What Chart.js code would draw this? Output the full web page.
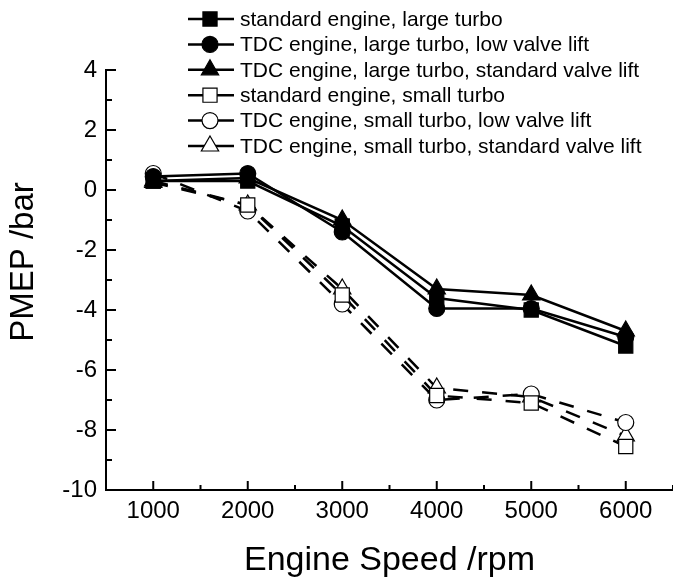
<!DOCTYPE html>
<html lang="en">
<head>
    <meta charset="UTF-8">
    <title>PMEP vs engine speed</title>
    <style>
        body {
            margin: 0;
            background: #fff;
        }
        .chart-box {
            width: 673px;
            height: 581px;
        }
    </style>
</head>
<body>
    <div class="chart-box">
        <canvas id="pmepChart" width="673" height="581"></canvas>
    </div>
    <script src="https://cdn.jsdelivr.net/npm/chart.js"></script>
    <script>
        // values
        const speeds = [1000, 2000, 3000, 4000, 5000, 6000];
        const seriesNames = [
            'standard engine, large turbo',
            'TDC engine, large turbo, low valve lift',
            'TDC engine, large turbo, standard valve lift',
            'standard engine, small turbo',
            'TDC engine, small turbo, low valve lift',
            'TDC engine, small turbo, standard valve lift'
        ];
        const stdLarge = [0.3, 0.3, -1.2, -3.6, -4.0, -5.2];
        const tdcLargeLow = [0.45, 0.55, -1.4, -3.95, -3.95, -4.9];
        const tdcLargeStd = [0.3, 0.4, -1.0, -3.3, -3.5, -4.7];
        const stdSmall = [0.3, -0.5, -3.5, -6.85, -7.1, -8.55];
        const tdcSmallLow = [0.55, -0.7, -3.8, -7.0, -6.8, -7.75];
        const tdcSmallStd = [0.25, -0.5, -3.3, -6.6, -6.9, -8.2];
        const yTicks = [-10, -8, -6, -4, -2, 0, 2, 4];
        const xTicks = [1000, 2000, 3000, 4000, 5000, 6000];

        const FONT = "'Liberation Sans', Arial, sans-serif";

        function makeSet(label, values, style, filled, dashed, radius) {
            return {
                label: label,
                data: values.map((v, i) => ({ x: speeds[i], y: v })),
                borderColor: '#000',
                borderWidth: 2.5,
                borderDash: dashed ? [15, 14] : [],
                pointStyle: style,
                pointRadius: radius,
                pointHoverRadius: radius,
                pointBackgroundColor: filled ? '#000' : '#fff',
                pointBorderColor: '#000',
                pointBorderWidth: 1.2,
                fill: false,
                tension: 0
            };
        }

        const datasets = [
            makeSet(seriesNames[0], stdLarge, 'rect', true, false, 10),
            makeSet(seriesNames[1], tdcLargeLow, 'circle', true, false, 8),
            makeSet(seriesNames[2], tdcLargeStd, 'triangle', true, false, 10),
            makeSet(seriesNames[3], stdSmall, 'rect', false, true, 10),
            makeSet(seriesNames[4], tdcSmallLow, 'circle', false, true, 8),
            makeSet(seriesNames[5], tdcSmallStd, 'triangle', false, true, 10)
        ];

        // inward major/minor ticks on both axes, plus the y title
        const inwardTicks = {
            id: 'inwardTicks',
            afterDraw(chart) {
                const ctx = chart.ctx;
                const area = chart.chartArea;
                const xs = chart.scales.x;
                const ys = chart.scales.y;
                ctx.save();
                ctx.strokeStyle = '#000';
                ctx.lineWidth = 2;
                for (let v = 500; v <= 6500; v += 500) {
                    const px = xs.getPixelForValue(v);
                    const len = v % 1000 === 0 ? 9 : 5;
                    ctx.beginPath();
                    ctx.moveTo(px, area.bottom);
                    ctx.lineTo(px, area.bottom - len);
                    ctx.stroke();
                }
                for (let v = -10; v <= 4; v += 1) {
                    const py = ys.getPixelForValue(v);
                    const len = v % 2 === 0 ? 10 : 6;
                    ctx.beginPath();
                    ctx.moveTo(area.left, py);
                    ctx.lineTo(area.left + len, py);
                    ctx.stroke();
                }
                // y title sits a bit above the middle in the original
                ctx.translate(24, 262);
                ctx.rotate(-Math.PI / 2);
                ctx.font = '33px ' + FONT;
                ctx.fillStyle = '#000';
                ctx.textAlign = 'center';
                ctx.textBaseline = 'middle';
                ctx.fillText('PMEP /bar', 0, 0);
                ctx.restore();
            }
        };

        // legend: short line segment with the marker, text to the right
        const lineLegend = {
            id: 'lineLegend',
            afterDraw(chart) {
                const ctx = chart.ctx;
                ctx.save();
                ctx.font = '21px ' + FONT;
                ctx.textBaseline = 'middle';
                chart.data.datasets.forEach((ds, i) => {
                    const y = 19 + i * 25.4;
                    ctx.strokeStyle = '#000';
                    ctx.lineWidth = 2.5;
                    ctx.setLineDash([]);
                    ctx.beginPath();
                    ctx.moveTo(188, y);
                    ctx.lineTo(234, y);
                    ctx.stroke();
                    ctx.fillStyle = ds.pointBackgroundColor;
                    ctx.lineWidth = 1.2;
                    Chart.helpers.drawPoint(ctx, {
                        pointStyle: ds.pointStyle,
                        radius: ds.pointRadius,
                        borderWidth: 1.2,
                        rotation: 0
                    }, 210, y);
                    ctx.fillStyle = '#000';
                    ctx.fillText(ds.label, 240, y + 1);
                });
                ctx.restore();
            }
        };

        new Chart(document.getElementById('pmepChart'), {
            type: 'line',
            data: { datasets: datasets },
            options: {
                responsive: false,
                animation: false,
                events: [],
                layout: {
                    autoPadding: false,
                    padding: { top: 70, right: 0, left: 0, bottom: 0 }
                },
                plugins: {
                    legend: { display: false },
                    tooltip: { enabled: false }
                },
                scales: {
                    x: {
                        type: 'linear',
                        min: 500,
                        max: 6500,
                        afterFit(scale) {
                            scale.height = 91;
                            scale.paddingLeft = 0;
                            scale.paddingRight = 0;
                        },
                        afterBuildTicks(scale) {
                            scale.ticks = xTicks.map(v => ({ value: v }));
                        },
                        grid: { display: false, drawTicks: false, tickLength: 0 },
                        border: { display: true, color: '#000', width: 2 },
                        ticks: {
                            color: '#000',
                            font: { family: FONT, size: 24 },
                            padding: 7,
                            maxRotation: 0,
                            callback: v => String(v)
                        },
                        title: {
                            display: true,
                            text: 'Engine Speed /rpm',
                            color: '#000',
                            font: { family: FONT, size: 34 },
                            padding: { top: 0, bottom: 0 }
                        }
                    },
                    y: {
                        min: -10,
                        max: 4,
                        afterFit(scale) {
                            scale.width = 106;
                            scale.paddingTop = 0;
                            scale.paddingBottom = 0;
                        },
                        afterBuildTicks(scale) {
                            scale.ticks = yTicks.map(v => ({ value: v }));
                        },
                        grid: { display: false, drawTicks: false, tickLength: 0 },
                        border: { display: true, color: '#000', width: 2 },
                        ticks: {
                            color: '#000',
                            font: { family: FONT, size: 24 },
                            padding: 9,
                            callback: v => String(v)
                        }
                    }
                }
            },
            plugins: [inwardTicks, lineLegend]
        });
    </script>
</body>
</html>
